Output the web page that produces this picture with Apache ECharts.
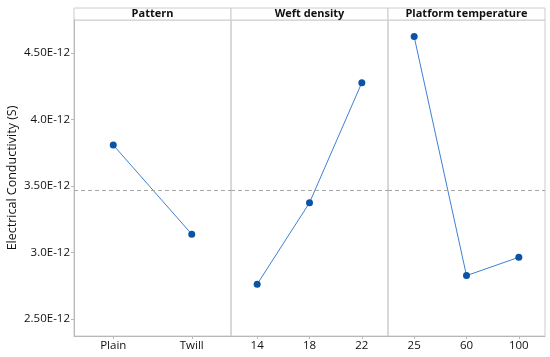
<!DOCTYPE html>
<html>
<head>
<meta charset="utf-8">
<script src="https://cdn.jsdelivr.net/npm/echarts@6/dist/echarts.min.js"></script>
<style>html,body{margin:0;padding:0;background:#fff}#c{width:550px;height:357px}</style>
</head>
<body>
<div id="c"></div>
<script>
// Values in units of 1E-12 S
const panelTitles = ["Pattern", "Weft density", "Platform temperature"];
const patternLevels = ["Plain", "Twill"];
const patternMeans = [3.808, 3.137];
const weftLevels = ["14", "18", "22"];
const weftMeans = [2.761, 3.374, 4.277];
const tempLevels = ["25", "60", "100"];
const tempMeans = [4.623, 2.826, 2.964];
const overallMean = 3.47;
const yTickValues = [2.5, 3.0, 3.5, 4.0, 4.5];
const yTickLabels = ["2.50E-12", "3.0E-12", "3.50E-12", "4.0E-12", "4.50E-12"];
const yAxisTitle = "Electrical Conductivity (S)";

const levelsList = [patternLevels, weftLevels, tempLevels];
const meansList = [patternMeans, weftMeans, tempMeans];

const FONT = "Open Sans";
const LEFT = 74, TOP = 20, W = 157, H = 316;
const Y_MIN = 2.372, Y_MAX = 4.748;
const frame = '#cccccc';
const TXT = '#111111';

const grids = [], xAxes = [], yAxes = [], series = [], graphics = [];
for (let i = 0; i < 3; i++) {
  grids.push({left: LEFT + W * i, top: TOP, width: W, height: H, show: true,
    borderColor: frame, borderWidth: 1, backgroundColor: 'transparent'});
  xAxes.push({
    type: 'category', gridIndex: i, data: levelsList[i], boundaryGap: true,
    axisLine: {show: true, lineStyle: {color: '#b8b8b8', width: 1}},
    axisTick: {show: true, alignWithLabel: true, length: 3, lineStyle: {color: '#b8b8b8'}},
    axisLabel: {color: TXT, fontSize: 11.5, fontFamily: FONT, margin: 4},
    splitLine: {show: false}
  });
  yAxes.push({
    type: 'value', gridIndex: i, min: Y_MIN, max: Y_MAX,
    name: i === 0 ? yAxisTitle : '', nameLocation: 'middle', nameGap: 55,
    nameTextStyle: {color: TXT, fontSize: 12.5, fontFamily: FONT},
    axisLine: {show: i === 0, lineStyle: {color: '#b8b8b8', width: 1}},
    axisTick: {show: i === 0, length: 3, customValues: yTickValues, lineStyle: {color: '#b8b8b8'}},
    axisLabel: {show: i === 0, customValues: yTickValues, color: TXT, fontSize: 11.5, fontFamily: FONT, margin: 4,
      formatter: function (v) { const k = yTickValues.findIndex(t => Math.abs(t - v) < 1e-9); return k >= 0 ? yTickLabels[k] : ''; }},
    splitLine: {show: false}
  });
  series.push({
    type: 'line', xAxisIndex: i, yAxisIndex: i, data: meansList[i],
    symbol: 'circle', symbolSize: 7, showSymbol: true,
    itemStyle: {color: '#0b53a6'},
    lineStyle: {color: '#3f80d6', width: 1},
    silent: true, animation: false,
    markLine: {silent: true, symbol: 'none', animation: false,
      data: [{yAxis: overallMean}], label: {show: false},
      lineStyle: {type: [4, 3], color: '#a6a6a6', width: 1}}
  });
  graphics.push({type: 'rect', shape: {x: LEFT + W * i, y: 8, width: W, height: TOP - 8},
    style: {fill: '#fff', stroke: frame, lineWidth: 1}});
  graphics.push({type: 'text', x: LEFT + W * i + W / 2, y: 14,
    style: {text: panelTitles[i], fill: TXT, font: 'bold 11px "' + FONT + '"', textAlign: 'center', textVerticalAlign: 'middle'}});
}

const chart = echarts.init(document.getElementById('c'), null, {renderer: 'canvas'});
chart.setOption({
  animation: false,
  backgroundColor: '#fff',
  grid: grids, xAxis: xAxes, yAxis: yAxes, series: series,
  graphic: graphics
});
</script>
</body>
</html>
